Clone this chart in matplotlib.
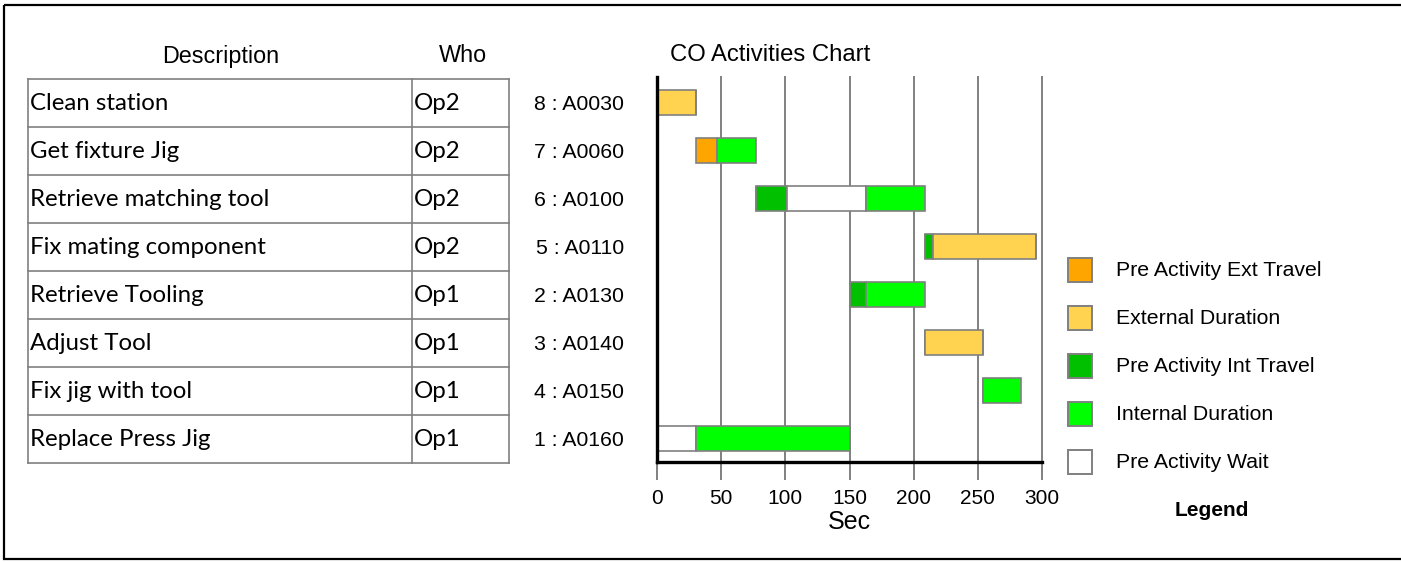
import matplotlib
matplotlib.use("Agg")
import matplotlib.pyplot as plt
from matplotlib.patches import Rectangle

# données (haut -> bas)
descriptions = ["Clean station", "Get fixture Jig", "Retrieve matching tool",
                "Fix mating component", "Retrieve Tooling", "Adjust Tool",
                "Fix jig with tool", "Replace Press Jig"]
who = ["Op2", "Op2", "Op2", "Op2", "Op1", "Op1", "Op1", "Op1"]
activities = ["8 : A0030", "7 : A0060", "6 : A0100", "5 : A0110",
              "2 : A0130", "3 : A0140", "4 : A0150", "1 : A0160"]

start = [0, 30, 77, 209, 150, 209, 254, 0]
ext_travel = [0, 17, 0, 0, 0, 0, 0, 0]
int_travel = [0, 0, 24, 6, 13, 0, 0, 0]
wait = [0, 0, 62, 0, 0, 0, 0, 30]
external = [30, 0, 0, 80, 0, 45, 0, 0]
internal = [0, 30, 46, 0, 46, 0, 30, 120]

x_ticks = [0, 50, 100, 150, 200, 250, 300]

# ordre d'empilement dans chaque barre
segments = [
    ("Pre Activity Ext Travel", ext_travel, "#FFA500"),
    ("Pre Activity Int Travel", int_travel, "#00C000"),
    ("Pre Activity Wait", wait, "#FFFFFF"),
    ("External Duration", external, "#FFD350"),
    ("Internal Duration", internal, "#00FF00"),
]
legend_order = ["Pre Activity Ext Travel", "External Duration",
                "Pre Activity Int Travel", "Internal Duration", "Pre Activity Wait"]
colors = {name: c for name, _, c in segments}

W, H = 1401, 562
fig = plt.figure(figsize=(W / 100, H / 100), dpi=100)
plt.rcParams['font.family'] = ['Liberation Sans', 'DejaVu Sans']

# calque de fond en pixels (cadre, tableau, légende)
bg = fig.add_axes([0, 0, 1, 1])
bg.set_xlim(0, W)
bg.set_ylim(H, 0)
bg.axis("off")

bg.add_patch(Rectangle((4, 5), W + 20, 554, fill=False, ec="black", lw=1.6))

# tableau
tx0, tx1, tdiv, ty0, rh = 28, 509, 412, 79, 48
grey = "#808080"
for i in range(len(descriptions) + 1):
    y = ty0 + i * rh
    bg.plot([tx0, tx1], [y, y], color=grey, lw=1.2)
for x in (tx0, tdiv, tx1):
    bg.plot([x, x], [ty0, ty0 + rh * len(descriptions)], color=grey, lw=1.2)
for i, (d, w) in enumerate(zip(descriptions, who)):
    yc = ty0 + rh * i + rh / 2 + 1
    bg.text(tx0 + 2, yc, d, fontsize=17.3, family=["Lato", "DejaVu Sans"], va="center", ha="left")
    bg.text(tdiv + 2, yc, w, fontsize=17.3, family=["Lato", "DejaVu Sans"], va="center", ha="left")

bg.text(221, 56, "Description", fontsize=16.8, ha="center", va="center")
bg.text(463, 56, "Who", fontsize=16.8, ha="center", va="center")
bg.text(770, 55, "CO Activities Chart", fontsize=17.2, ha="center", va="center")

# légende
for i, name in enumerate(legend_order):
    yc = 270 + 48 * i
    bg.add_patch(Rectangle((1068, yc - 12), 24, 24, fc=colors[name], ec=grey, lw=1.4))
    bg.text(1116, yc, name, fontsize=15.3, ha="left", va="center")
bg.text(1212, 510, "Legend", fontsize=15, fontweight="bold", ha="center", va="center")

# graphique de Gantt
ax_l, ax_r, ax_t, ax_b = 657, 1042, 76.7, 461.7
ax = fig.add_axes([ax_l / W, (H - ax_b) / H, (ax_r - ax_l) / W, (ax_b - ax_t) / H])
ax.set_zorder(2)
ax.patch.set_alpha(0)

ypos = list(range(len(activities)))
left = list(start)
for name, vals, color in segments:
    ax.barh(ypos, vals, left=left, height=0.52, color=color,
            edgecolor=grey, linewidth=1.2, zorder=3)
    left = [l + v for l, v in zip(left, vals)]

ax.set_xlim(0, 300)
ax.set_ylim(7.49, -0.53)
ax.set_xticks(x_ticks)
ax.set_yticks(ypos)
ax.set_yticklabels(activities, fontsize=15.3)
ax.tick_params(axis="y", length=0, pad=24)
ax.tick_params(axis="x", length=13, width=1.4, color=grey, pad=7, labelsize=15)
ax.grid(axis="x", color=grey, lw=1.4, zorder=0)
for gl in ax.xaxis.get_gridlines():
    gl.set_clip_on(False)
for s in ("top", "right"):
    ax.spines[s].set_visible(False)
ax.spines["left"].set_linewidth(2.4)
ax.spines["bottom"].set_linewidth(2.4)
ax.spines["left"].set_zorder(4)
ax.set_xlabel("Sec", fontsize=18, labelpad=1)

plt.savefig("out.png", dpi=100)
